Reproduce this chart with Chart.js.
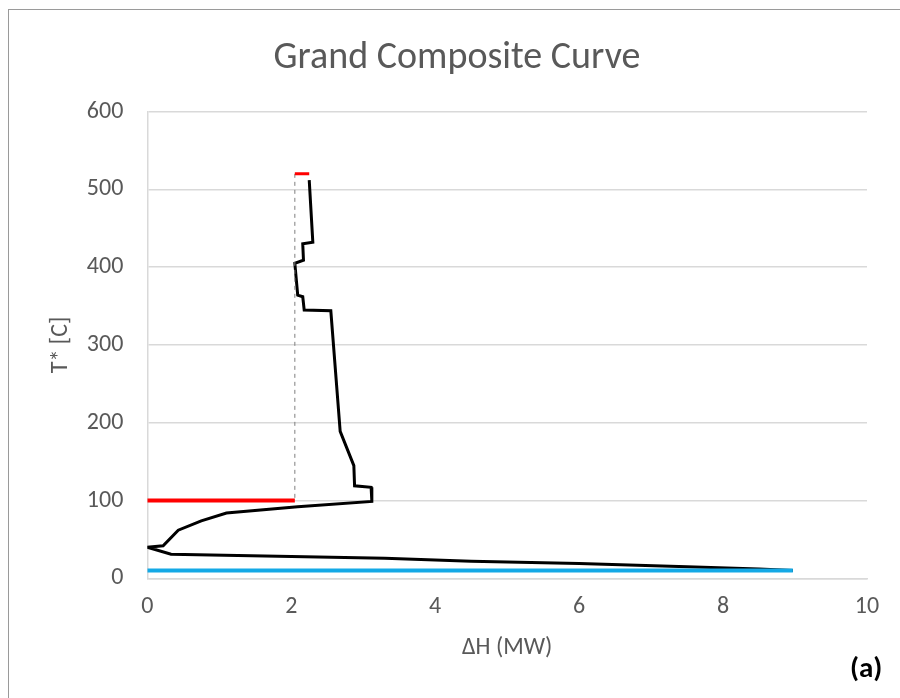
<!DOCTYPE html>
<html>
<head>
<meta charset="utf-8">
<script src="https://cdn.jsdelivr.net/npm/chart.js@4.4.0/dist/chart.umd.min.js"></script>
<style>
  html, body { margin: 0; padding: 0; background: #fff; }
  #wrap { position: relative; width: 900px; height: 698px; }
  #frame { position: absolute; left: 8px; top: 9px; width: 900px; height: 700px; border-left: 1.5px solid #9a9a9a; border-top: 1.5px solid #9a9a9a; }
  #tag { position: absolute; left: 850px; top: 649px; font: bold 29px Calibri, "Open Sans", sans-serif; color: #000; }
</style>
</head>
<body>
<div id="wrap">
  <div id="frame"></div>
  <canvas id="gcc" width="900" height="698"></canvas>
  <div id="tag">(a)</div>
</div>
<script>
// Grand composite curve (T* vs ΔH)
const gccH = [2.25, 2.30, 2.16, 2.17, 2.05, 2.09, 2.16, 2.18, 2.55, 2.68, 2.87, 2.88, 3.11, 3.12, 2.09, 1.10, 0.75, 0.43, 0.22, 0, 0.33, 2.0, 3.3, 4.5, 6.0, 7.5, 8.5, 8.97];
const gccT = [512, 432, 430, 409, 405, 364, 362, 345, 344, 189, 145, 119, 117, 99, 92, 84, 74, 62, 42, 40, 31, 28, 26, 22, 19, 15, 12, 10];

// hot utility (top), pinch guide, hot/cold bands
const hotTopH = [2.05, 2.25];
const hotTopT = [520, 520];
const pinchH = [2.05, 2.05];
const pinchT = [520, 100];
const redH = [0, 2.05];
const redT = [100, 100];
const blueH = [0, 8.97];
const blueT = [10, 10];

const xTicks = [0, 2, 4, 6, 8, 10];
const yTicks = [0, 100, 200, 300, 400, 500, 600];

const pts = (xs, ys) => xs.map((x, i) => ({ x: x, y: ys[i] }));
const gray = '#595959';
const font = 'Calibri, "Open Sans", sans-serif';

new Chart(document.getElementById('gcc'), {
  type: 'scatter',
  data: {
    datasets: [
      { data: pts(blueH, blueT), borderColor: '#14a9e6', borderWidth: 4, showLine: true, pointRadius: 0 },
      { data: pts(redH, redT), borderColor: '#ff0000', borderWidth: 4, showLine: true, pointRadius: 0 },
      { data: pts(hotTopH, hotTopT), borderColor: '#ff0000', borderWidth: 3, showLine: true, pointRadius: 0 },
      { data: pts(pinchH, pinchT), borderColor: '#7f7f7f', borderWidth: 1, borderDash: [4, 4], showLine: true, pointRadius: 0 },
      { data: pts(gccH, gccT), borderColor: '#000000', borderWidth: 3, showLine: true, pointRadius: 0 }
    ]
  },
  options: {
    responsive: false,
    animation: false,
    layout: { padding: { left: 47, right: 33, top: 0, bottom: 36 } },
    plugins: {
      legend: { display: false },
      tooltip: { enabled: false },
      title: {
        display: true,
        text: 'Grand Composite Curve',
        color: gray,
        font: { family: font, size: 38, weight: 'normal' },
        padding: { top: 36, bottom: 30 }
      }
    },
    scales: {
      x: {
        type: 'linear',
        min: 0, max: 10,
        afterBuildTicks: (s) => { s.ticks = xTicks.map(v => ({ value: v })); },
        afterFit: (s) => { s.height -= 16; },
        grid: { display: false, drawTicks: false },
        border: { display: true, color: '#d9d9d9', width: 1.5 },
        ticks: { color: gray, font: { family: font, size: 24 }, padding: 14 },
        title: { display: true, text: 'ΔH (MW)', color: gray, font: { family: font, size: 24 }, padding: { top: 14, bottom: 0 } }
      },
      y: {
        type: 'linear',
        min: 0, max: 600,
        afterBuildTicks: (s) => { s.ticks = yTicks.map(v => ({ value: v })); },
        afterFit: (s) => { s.width -= 24; },
        grid: { color: '#d9d9d9', lineWidth: 1.5, drawTicks: false },
        border: { display: true, color: '#d9d9d9', width: 1.5 },
        ticks: { color: gray, font: { family: font, size: 24 }, padding: 24 },
        title: { display: true, text: 'T* [C]', color: gray, font: { family: font, size: 24 }, padding: { top: 0, bottom: 11 } }
      }
    }
  }
});
</script>
</body>
</html>
